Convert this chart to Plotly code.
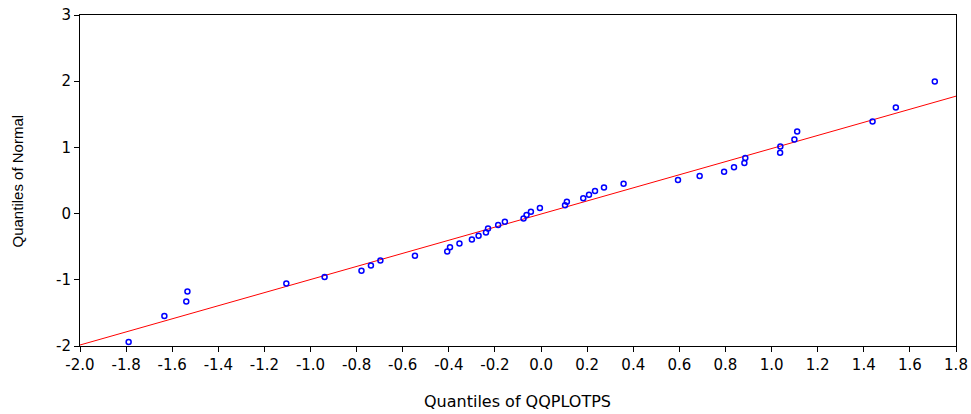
import plotly.graph_objects as go

# Empirical quantiles of QQPLOTPS against the matching normal quantiles
qq_x = [-1.789, -1.634, -1.539, -1.534, -1.105, -0.939, -0.779, -0.738, -0.697,
        -0.547, -0.407, -0.395, -0.354, -0.300, -0.271, -0.239, -0.230, -0.186,
        -0.157, -0.076, -0.063, -0.044, -0.005, 0.104, 0.112, 0.183, 0.208,
        0.234, 0.273, 0.358, 0.594, 0.688, 0.794, 0.837, 0.882, 0.886, 1.037,
        1.038, 1.099, 1.111, 1.438, 1.539, 1.708]
qq_y = [-1.940, -1.546, -1.329, -1.178, -1.057, -0.956, -0.865, -0.784, -0.709,
        -0.638, -0.572, -0.507, -0.451, -0.391, -0.335, -0.285, -0.224, -0.174,
        -0.123, -0.073, -0.023, 0.028, 0.083, 0.128, 0.180, 0.230, 0.286,
        0.340, 0.396, 0.452, 0.507, 0.567, 0.634, 0.699, 0.764, 0.840, 0.921,
        1.012, 1.118, 1.239, 1.391, 1.603, 1.996]

# Fitted reference line endpoints
line_x = [-2.0, 1.8]
line_y = [-1.985, 1.774]

# Tick positions and labels (plain hyphen for negatives)
x_tickvals = [-2.0, -1.8, -1.6, -1.4, -1.2, -1.0, -0.8, -0.6, -0.4, -0.2,
              0.0, 0.2, 0.4, 0.6, 0.8, 1.0, 1.2, 1.4, 1.6, 1.8]
x_ticktext = ["-2.0", "-1.8", "-1.6", "-1.4", "-1.2", "-1.0", "-0.8", "-0.6", "-0.4", "-0.2",
              "0.0", "0.2", "0.4", "0.6", "0.8", "1.0", "1.2", "1.4", "1.6", "1.8"]
y_tickvals = [-2, -1, 0, 1, 2, 3]
y_ticktext = ["-2", "-1", "0", "1", "2", "3"]

x_title = "Quantiles of QQPLOTPS"
y_title = "Quantiles of Normal"

fig = go.Figure()
fig.add_trace(go.Scatter(
    x=line_x, y=line_y, mode="lines",
    line=dict(color="#ff0000", width=1), hoverinfo="skip", showlegend=False))
fig.add_trace(go.Scatter(
    x=qq_x, y=qq_y, mode="markers",
    marker=dict(symbol="circle-open", size=5, color="#0000ff",
                line=dict(width=1.5, color="#0000ff")),
    showlegend=False))

axis_common = dict(showgrid=False, zeroline=False, showline=True, linecolor="black",
                   linewidth=1, mirror=True, ticks="outside", ticklen=5,
                   tickcolor="black", tickwidth=1, automargin=False,
                   tickfont=dict(family="DejaVu Sans", size=15, color="black"))

fig.update_xaxes(range=[-2.0, 1.8], tickmode="array", tickvals=x_tickvals,
                 ticktext=x_ticktext, **axis_common)
fig.update_yaxes(range=[-2, 3], tickmode="array", tickvals=y_tickvals,
                 ticktext=y_ticktext, **axis_common)

fig.add_annotation(text=x_title, xref="paper", yref="paper", x=0.499, y=-0.168,
                   xanchor="center", yanchor="middle", showarrow=False,
                   font=dict(family="DejaVu Sans", size=16, color="black"))
fig.add_annotation(text=y_title, xref="paper", yref="paper", x=-0.0708, y=0.5,
                   xanchor="center", yanchor="middle", showarrow=False, textangle=-90,
                   font=dict(family="Liberation Sans", size=15, color="black"))

fig.update_layout(width=971, height=414, margin=dict(l=80, r=15, t=15, b=68),
                  plot_bgcolor="white", paper_bgcolor="white")

fig.write_html("out.html")
